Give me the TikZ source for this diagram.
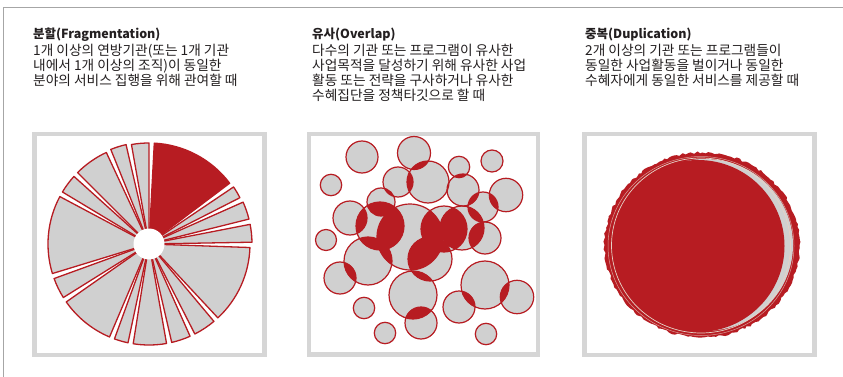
\documentclass[tikz,border=0pt]{standalone}
\usepackage{fontspec}
\setmainfont{Noto Sans CJK KR}
\usetikzlibrary{decorations.pathmorphing}
\definecolor{rd}{HTML}{B71C22}
\definecolor{gfill}{HTML}{D0D0D0}
\definecolor{framec}{HTML}{D6D6D6}
\definecolor{txt}{HTML}{231F20}
\definecolor{ringc}{HTML}{E6D2C6}
\tikzset{
  titletext/.style={anchor=base west, inner sep=0pt, text=txt, font=\fontsize{12.5}{15}\selectfont\bfseries},
  bodytext/.style={anchor=base west, inner sep=0pt, text=txt, font=\fontsize{13.7}{15}\selectfont},
  panelframe/.style={draw=framec, line width=4.5pt},
  bubble/.style={draw=rd, line width=1.2pt},
  slice/.style={draw=rd, line width=1.3pt, line join=round}
}
\begin{document}
\begin{tikzpicture}[x=1pt,y=-1pt]
\useasboundingbox (0,0) rectangle (843,377);
\fill[white] (0,0) rectangle (843,377);
\draw[gray!70, line width=1pt] (3.5,380) -- (3.5,7.5) -- (850,7.5);

% ---------- texts ----------
\node[titletext] (t1) at (33,38.5) {분할(Fragmentation)};
\node[bodytext] (a1) at (33,56) {1개 이상의 연방기관(또는 1개 기관};
\node[bodytext] (a2) at (33,71) {내에서 1개 이상의 조직)이 동일한};
\node[bodytext] (a3) at (33,86) {분야의 서비스 집행을 위해 관여할 때};

\node[titletext] (t2) at (312,38.5) {유사(Overlap)};
\node[bodytext] (b1) at (312,55.5) {다수의 기관 또는 프로그램이 유사한};
\node[bodytext] (b2) at (312,70.5) {사업목적을 달성하기 위해 유사한 사업};
\node[bodytext] (b3) at (312,85.5) {활동 또는 전략을 구사하거나 유사한};
\node[bodytext] (b4) at (312,100.5) {수혜집단을 정책타깃으로 할 때};

\node[titletext] (t3) at (585,38.5) {중복(Duplication)};
\node[bodytext] (c1) at (585,55.5) {2개 이상의 기관 또는 프로그램들이};
\node[bodytext] (c2) at (585,70.5) {동일한 사업활동을 벌이거나 동일한};
\node[bodytext] (c3) at (585,85.5) {수혜자에게 동일한 서비스를 제공할 때};

% ---------- frames ----------
\draw[panelframe] (34.5,134) rectangle (264.5,355);
\draw[panelframe] (309,134) rectangle (538,354.5);
\draw[panelframe] (584.5,134) rectangle (814.5,355);

% ---------- pie (fragmentation) ----------
\begin{scope}[shift={(149,244)}, yscale=-1]
  \foreach \a/\b/\rr/\c in {37/87/101/rd, 27/34/102/gfill, 14/24/103/gfill, 1/11/103/gfill,
      -47/-2/101/gfill, -63/-50/101/gfill, -77/-66/101/gfill, -99/-80/101/gfill,
      -110/-102/101/gfill, -145/-113/101/gfill, -160/-148/101/gfill, 152/197/101/gfill,
      138/149/101/gfill, 115/135/101/gfill, 103/112/102/gfill, 90/100/101/gfill}
  {
    \path[slice, fill=\c] (0,0) -- (\a:\rr) arc[start angle=\a, end angle=\b, radius=\rr] -- cycle;
  }
  \fill[white] (0,0) circle[radius=15.5];
\end{scope}

% ---------- bubbles (overlap) ----------
\def\circlist{362/157/16, 414/153/16.5, 459/167/10.7, 492/161/11, 331/185/10.7,
  398/182/15, 428/182/21, 463/190/16, 506/195/16.7, 483/207/15, 350/218/17,
  381/202/14, 380/226/24, 410/237/33, 444/229/23, 462/228/22, 485/238/16,
  326/240/10.5, 368/261/24, 340/278/16, 430/259/22, 413/295/24, 485/285/24,
  517/297/16.7, 459/307/16, 364/308/10.7, 421/323/16, 385/333/10.7, 486/334/10.7}
\foreach \x/\y/\r in \circlist { \fill[gfill] (\x,\y) circle[radius=\r]; }
\foreach \x/\y/\r [count=\i] in \circlist {
  \begin{scope}
    \clip (\x,\y) circle[radius=\r];
    \foreach \xx/\yy/\rr [count=\j] in \circlist {
      \ifnum\i=\j\relax\else\fill[rd] (\xx,\yy) circle[radius=\rr];\fi
    }
  \end{scope}
}
\foreach \x/\y/\r in \circlist { \draw[bubble] (\x,\y) circle[radius=\r]; }

% ---------- duplication ----------
\pgfmathsetseed{7}
\fill[rd, decorate, decoration={random steps, segment length=3pt, amplitude=1.1pt}]
  (702,245) ellipse[x radius=97.5, y radius=92.5];
\fill[gfill] (705,245) ellipse[x radius=88, y radius=86];
\fill[rd] (698,246) ellipse[x radius=86.5, y radius=86];
\draw[ringc, line width=0.7pt] (701,245.5) ellipse[x radius=89.5, y radius=87.5];
\draw[ringc!70!rd, line width=0.5pt] (701,246) ellipse[x radius=93, y radius=89.5];
\end{tikzpicture}
\end{document}
